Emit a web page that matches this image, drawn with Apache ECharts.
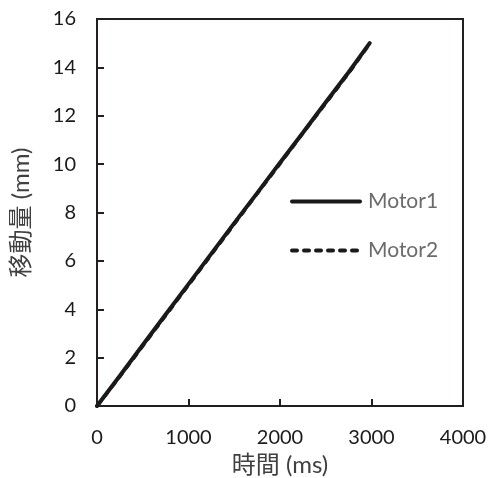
<!DOCTYPE html>
<html>
<head>
<meta charset="utf-8">
<script src="https://cdn.jsdelivr.net/npm/echarts@6/dist/echarts.min.js"></script>
<style>
  html, body { margin: 0; padding: 0; background: #fff; }
  #chart { width: 489px; height: 478px; }
</style>
</head>
<body>
<div id="chart"></div>
<script>
// Displacement over time for two motors
const seriesNames = ['Motor1', 'Motor2'];
const timeMs = [0, 250, 500, 750, 1000, 1250, 1500, 1750, 2000, 2250, 2500, 2750, 2980];
const motor1Mm = [0, 1.25, 2.52, 3.78, 5.04, 6.3, 7.56, 8.8, 10.06, 11.3, 12.56, 13.8, 15.0];
const motor2Mm = [0, 1.22, 2.48, 3.74, 5.0, 6.26, 7.52, 8.78, 10.02, 11.28, 12.52, 13.76, 14.98];
const xTicks = [0, 1000, 2000, 3000, 4000];
const yTicks = [0, 2, 4, 6, 8, 10, 12, 14, 16];

const pairs = (xs, ys) => xs.map((x, i) => [x, ys[i]]);

const font = "Lato, 'Noto Sans CJK JP', sans-serif";
const axisColor = '#231f20';

const chart = echarts.init(document.getElementById('chart'), null, { renderer: 'canvas' });
chart.setOption({
  animation: false,
  backgroundColor: '#fff',
  grid: {
    left: 97, right: 26, top: 19, bottom: 72,
    containLabel: false, outerBoundsMode: 'none',
    show: true, borderColor: axisColor, borderWidth: 2
  },
  legend: {
    orient: 'vertical',
    left: 290, top: 191, padding: 0,
    itemWidth: 68, itemHeight: 12, itemGap: 28,
    data: seriesNames,
    itemStyle: { opacity: 0 },
    lineStyle: { width: 4, cap: 'round' },
    textStyle: { fontFamily: font, fontSize: 21, color: '#6b6b6b', padding: [0, 0, 0, 3] }
  },
  xAxis: {
    type: 'value',
    min: xTicks[0], max: xTicks[xTicks.length - 1], interval: 1000,
    name: '時間 (ms)', nameLocation: 'middle', nameGap: 46,
    nameTextStyle: { fontFamily: font, fontSize: 24, color: '#404040' },
    axisLine: { show: true, onZero: false, lineStyle: { color: axisColor, width: 2 } },
    axisTick: { show: true, inside: true, length: 7, lineStyle: { color: axisColor, width: 2 } },
    axisLabel: { fontFamily: font, fontSize: 20, color: '#1a1a1a', margin: 22, formatter: v => String(v) },
    splitLine: { show: false }
  },
  yAxis: {
    type: 'value',
    min: yTicks[0], max: yTicks[yTicks.length - 1], interval: 2,
    name: '移動量 (mm)', nameLocation: 'middle', nameGap: 64,
    nameTextStyle: { fontFamily: font, fontSize: 24, color: '#404040' },
    axisLine: { show: true, onZero: false, lineStyle: { color: axisColor, width: 2 } },
    axisTick: { show: true, inside: true, length: 7, lineStyle: { color: axisColor, width: 2 } },
    axisLabel: { fontFamily: font, fontSize: 20, color: '#1a1a1a', margin: 21, formatter: v => String(v) },
    splitLine: { show: false }
  },
  series: [
    {
      name: seriesNames[0], type: 'line', symbol: 'none',
      data: pairs(timeMs, motor1Mm),
      lineStyle: { color: '#1a1a1a', width: 4, cap: 'round' },
      itemStyle: { color: '#1a1a1a' }
    },
    {
      name: seriesNames[1], type: 'line', symbol: 'none',
      data: pairs(timeMs, motor2Mm),
      lineStyle: { color: '#1a1a1a', width: 3.5, type: [5, 7], cap: 'round' },
      itemStyle: { color: '#1a1a1a' }
    }
  ]
});
</script>
</body>
</html>
